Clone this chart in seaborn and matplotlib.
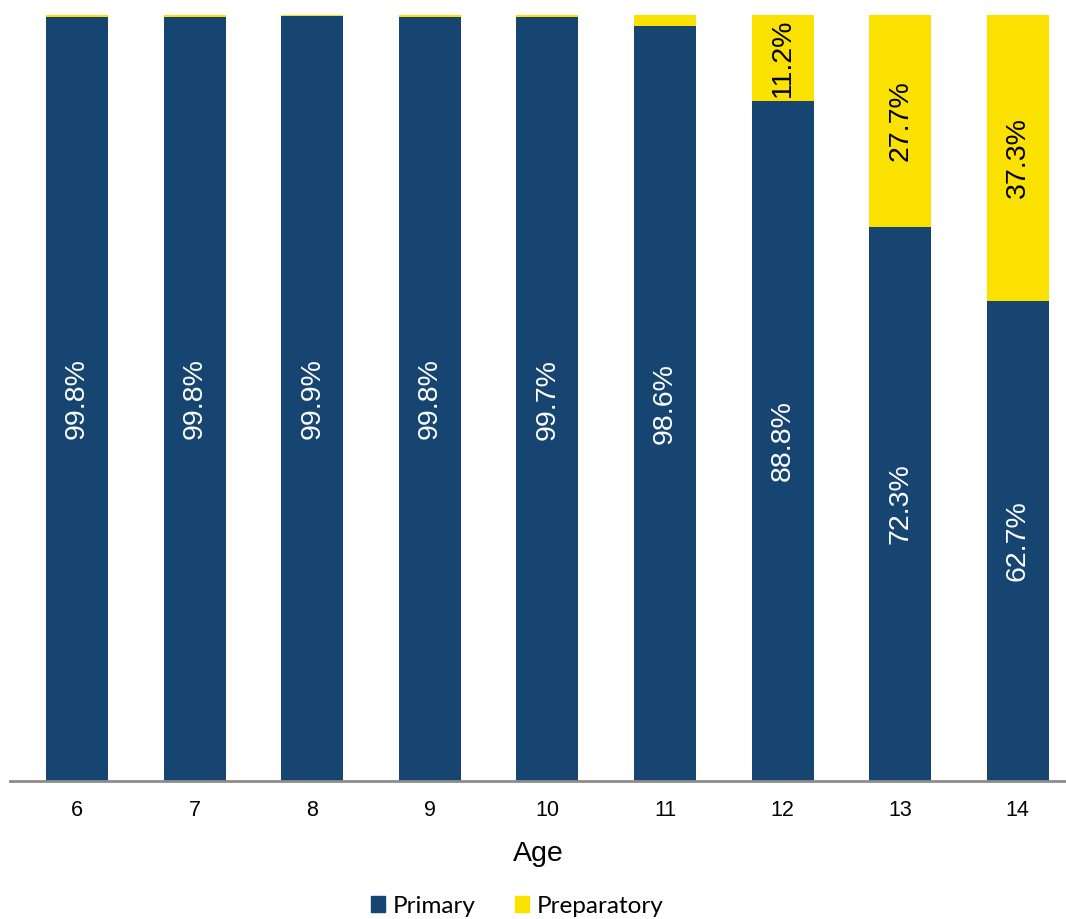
import numpy as np
import pandas as pd
import seaborn as sns
import matplotlib.pyplot as plt
from matplotlib.patches import Patch

ages = ["6", "7", "8", "9", "10", "11", "12", "13", "14"]
primary = [99.8, 99.8, 99.9, 99.8, 99.7, 98.6, 88.8, 72.3, 62.7]
preparatory = [0.2, 0.2, 0.1, 0.2, 0.3, 1.4, 11.2, 27.7, 37.3]

blue = "#174571"
yellow = "#FAE100"

sns.set_theme(style="white")
plt.rcParams["font.family"] = ["Liberation Sans", "DejaVu Sans"]
plt.rcParams["text.color"] = "black"
plt.rcParams["xtick.color"] = "black"
plt.rcParams["axes.labelcolor"] = "black"

df = pd.DataFrame({"Age": ages, "Primary": primary, "Preparatory": preparatory})
df["Total"] = df["Primary"] + df["Preparatory"]

fig = plt.figure(figsize=(10.66, 9.19), dpi=100)
ax = fig.add_axes([10 / 1066, 1 - 781 / 919, 1 - 10 / 1066, (781 - 15) / 919])

# stacked: total in yellow first, primary in blue over it
sns.barplot(data=df, x="Age", y="Total", color=yellow, width=0.527,
            saturation=1, ax=ax, linewidth=0)
sns.barplot(data=df, x="Age", y="Primary", color=blue, width=0.527,
            saturation=1, ax=ax, linewidth=0)

prim_bars = ax.containers[1]

for bar, v in zip(prim_bars, primary):
    ax.text(bar.get_x() + bar.get_width() / 2, v / 2, f"{v:.1f}%",
            rotation=90, ha="center", va="center", color="white", fontsize=20.5)

for bar, p, v in zip(prim_bars, primary, preparatory):
    if v >= 5:
        ax.text(bar.get_x() + bar.get_width() / 2, p + v / 2, f"{v:.1f}%",
                rotation=90, ha="center", va="center", color="black", fontsize=20.5)

ax.set_ylim(0, 100)
ax.set_xlim(-0.57, 8.41)
ax.set_yticks([])
ax.set_ylabel("")
ax.set_xlabel("Age", fontsize=20.5, labelpad=14)
ax.tick_params(axis="x", labelsize=15.5, length=0, pad=14)
for s in ["top", "right", "left"]:
    ax.spines[s].set_visible(False)
ax.spines["bottom"].set_color("#8c8c8c")
ax.spines["bottom"].set_linewidth(2)

handles = [Patch(color=blue, label="Primary"), Patch(color=yellow, label="Preparatory")]
fig.legend(handles=handles, loc="center", bbox_to_anchor=(0.485, 0.014), ncol=2,
           frameon=False, handlelength=0.6, handleheight=0.6,
           handletextpad=0.3, columnspacing=1.6,
           prop={"family": ["Lato", "DejaVu Sans"], "size": 17.5})

fig.savefig("out.png", dpi=100)
